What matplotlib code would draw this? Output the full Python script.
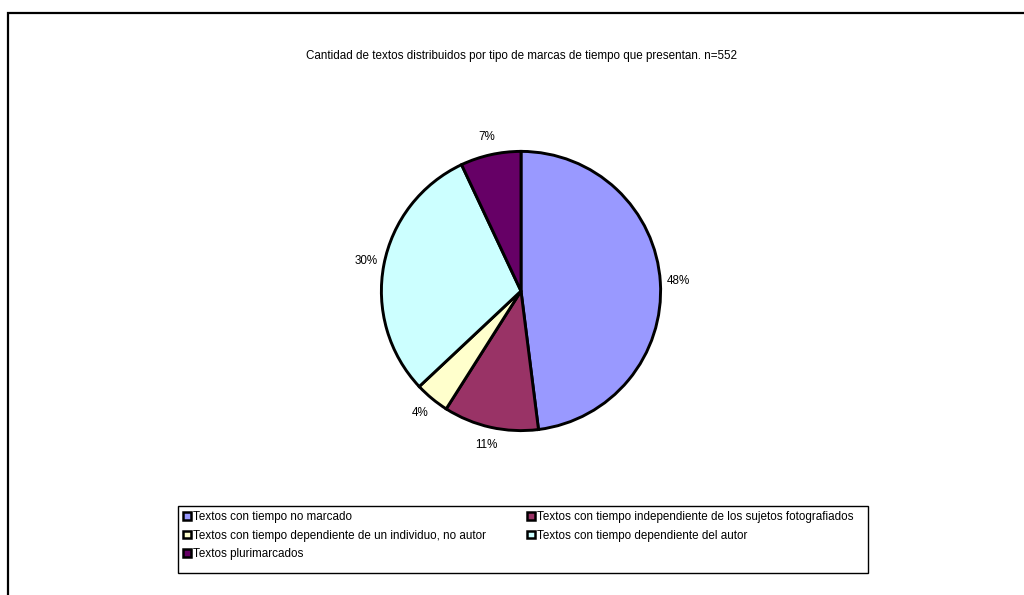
import matplotlib
matplotlib.use("Agg")
from matplotlib import pyplot as plt
from matplotlib.patches import Rectangle

plt.rcParams["font.family"] = ["Liberation Sans", "DejaVu Sans"]

TITLE = "Cantidad de textos distribuidos por tipo de marcas de tiempo que presentan. n=552"
categories = [
    "Textos con tiempo no marcado",
    "Textos con tiempo independiente de los sujetos fotografiados",
    "Textos con tiempo dependiente de un individuo, no autor",
    "Textos con tiempo dependiente del autor",
    "Textos plurimarcados",
]
shares = [48, 11, 4, 30, 7]
colors = ["#9999FF", "#993366", "#FFFFCC", "#CCFFFF", "#660066"]

FS = 8.4
W, H = 1024, 595
fig = plt.figure(figsize=(W / 100, H / 100), dpi=100)

# outer chart frame (runs off the right and bottom edges)
fig.patches.append(Rectangle((8 / W, -0.1), 1.2, (H - 12.5) / H + 0.1,
                             transform=fig.transFigure, fill=False,
                             edgecolor="black", linewidth=1.6))

fig.text(521 / W, 1 - 56 / H, TITLE, ha="center", va="center", fontsize=FS)

# pie centred at (521, 291) px with radius ~141 px
r = 141
ax = fig.add_axes([(521 - r) / W, 1 - (291 + r) / H, 2 * r / W, 2 * r / H])
wedges, texts, autotexts = ax.pie(
    shares, colors=colors, startangle=90, counterclock=False,
    autopct=lambda p: "%d%%" % round(p), pctdistance=1.13, radius=1.0,
    wedgeprops=dict(edgecolor="black", linewidth=2.1),
    textprops=dict(fontsize=FS, color="black"))
ax.set_xlim(-1.01, 1.01)
ax.set_ylim(-1.01, 1.01)
ax.set_aspect("equal")
ax.axis("off")

# legend box drawn separately so its height can be set freely
fig.patches.append(Rectangle((178 / W, 1 - 573 / H), (868 - 178) / W, 67 / H,
                             transform=fig.transFigure, fill=False,
                             edgecolor="black", linewidth=1.0))

# legend is read row by row, matplotlib fills columns, so reorder
order = [0, 2, 4, 1, 3]
handles = [Rectangle((0, 0), 1, 1, facecolor=colors[i], edgecolor="black",
                     linewidth=1.8) for i in order]
labels = [categories[i] for i in order]
leg = fig.legend(handles, labels, ncol=2, loc="upper left",
                 bbox_to_anchor=(178 / W, 1 - 506 / H),
                 fontsize=FS, frameon=False,
                 handlelength=0.65, handleheight=0.65, columnspacing=3.5,
                 handletextpad=0.2, borderpad=0.45, labelspacing=0.55,
                 borderaxespad=0)

fig.savefig("out.png", dpi=100)
